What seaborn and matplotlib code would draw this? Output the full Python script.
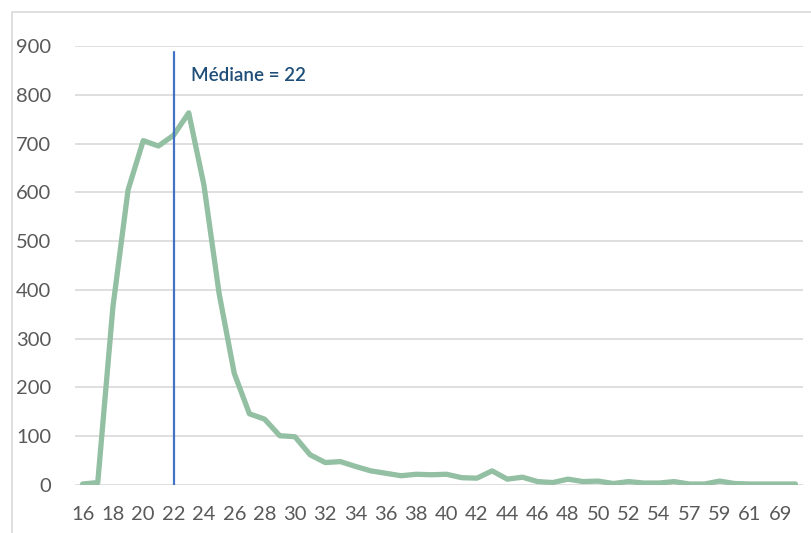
import pandas as pd
import matplotlib
matplotlib.use('Agg')
import matplotlib.pyplot as plt
from matplotlib.patches import Rectangle
import seaborn as sns

sns.set_theme(style='white')
plt.rcParams['font.family'] = ['Lato', 'DejaVu Sans']

# age categories (x axis) and number of people per age
ages = [16, 17, 18, 19, 20, 21, 22, 23, 24, 25, 26, 27, 28, 29, 30, 31, 32, 33,
        34, 35, 36, 37, 38, 39, 40, 41, 42, 43, 44, 45, 46, 47, 48, 49, 50, 51,
        52, 53, 54, 55, 57, 58, 59, 60, 61, 65, 69, 71]
counts = [2, 5, 365, 605, 706, 695, 717, 763, 615, 393, 229, 146, 135, 101, 99,
          62, 46, 48, 38, 29, 24, 19, 22, 21, 22, 15, 14, 29, 12, 16, 7, 5, 12,
          7, 8, 3, 7, 4, 4, 7, 2, 2, 8, 3, 2, 2, 2, 2]
median_age = 22
y_ticks = [0, 100, 200, 300, 400, 500, 600, 700, 800, 900]

df = pd.DataFrame({'age': [str(a) for a in ages], 'count': counts})

fig = plt.figure(figsize=(8.11, 5.33), dpi=100)
ax = fig.add_axes([75 / 811, 1 - 485 / 533, (803 - 75) / 811, (485 - 46) / 533])

sns.lineplot(data=df, x='age', y='count', ax=ax, color='#93BFA3',
             linewidth=3.8, solid_capstyle='round', solid_joinstyle='round',
             sort=False, zorder=3)

# median marker
med_pos = ages.index(median_age)
ax.axvline(med_pos, ymin=0, ymax=0.986, color='#4472C4', linewidth=1.6, zorder=4)
ax.text(med_pos + 1.15, 828, 'Médiane = 22', color='#1F4E79', fontsize=13.5,
        fontweight='semibold', va='baseline', ha='left')

ax.set_xlim(-0.5, len(ages) - 0.5)
ax.set_ylim(0, 900)
ax.set_yticks(y_ticks)
ax.set_xticks(range(0, len(ages), 2))
ax.set_xticklabels([str(a) for a in ages[::2]])
ax.tick_params(axis='both', length=0, labelsize=14.5, labelcolor='#595959')
ax.tick_params(axis='y', pad=17)
ax.tick_params(axis='x', pad=15)
ax.set_xlabel('')
ax.set_ylabel('')
ax.grid(axis='y', color='#D9D9D9', linewidth=1.2)
ax.grid(axis='x', visible=False)
ax.set_axisbelow(True)
for s in ax.spines.values():
    s.set_visible(False)

# chart area border
fig.patches.append(Rectangle((12 / 811, -0.05), 1.0, 1 - 12 / 533 + 0.05,
                             transform=fig.transFigure, fill=False,
                             edgecolor='#D9D9D9', linewidth=1.2))

fig.savefig('out.png', dpi=100)
